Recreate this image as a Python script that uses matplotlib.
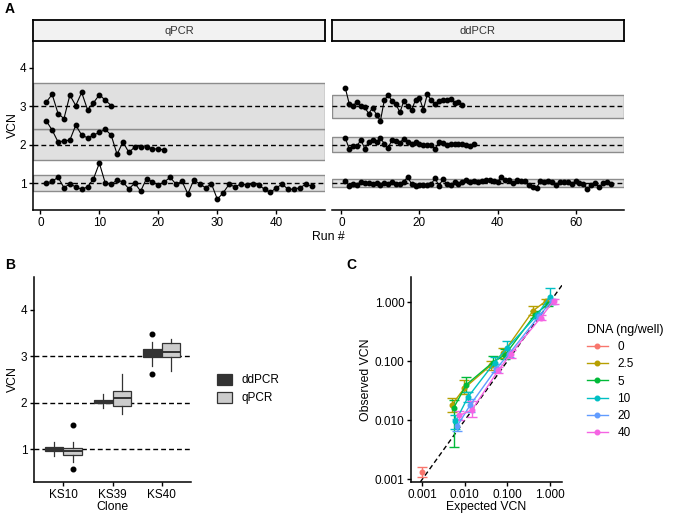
import numpy as np
import matplotlib.pyplot as plt
from matplotlib.patches import Patch
from matplotlib.lines import Line2D

plt.rcParams["font.family"] = ["Liberation Sans", "DejaVu Sans"]

W, H = 674, 514

# --- Panel A: VCN per run ---
qpcr_ks10 = [1.00, 1.05, 1.15, 0.88, 0.98, 0.90, 0.84, 0.90, 1.11, 1.52,
             1.00, 0.97, 1.08, 1.03, 0.85, 1.00, 0.79, 1.12, 1.03, 0.95,
             1.03, 1.15, 0.97, 1.05, 0.72, 1.08, 0.98, 0.88, 0.98, 0.58,
             0.75, 0.97, 0.90, 0.98, 0.95, 0.97, 0.95, 0.84, 0.76, 0.88,
             0.97, 0.84, 0.84, 0.88, 0.97, 0.92]
qpcr_ks39 = [2.62, 2.38, 2.07, 2.10, 2.12, 2.51, 2.25, 2.18, 2.25, 2.32,
             2.40, 2.25, 1.75, 2.07, 1.80, 1.94, 1.95, 1.94, 1.90, 1.88, 1.87]
qpcr_ks40 = [3.11, 3.31, 2.81, 2.68, 3.29, 3.02, 3.36, 2.91, 3.09, 3.30,
             3.16, 3.02]
ddpcr_ks10 = [1.05, 0.93, 0.97, 0.96, 1.03, 1.00, 0.99, 0.98, 1.00, 0.94,
              1.00, 0.97, 1.02, 0.97, 0.98, 1.04, 1.16, 0.97, 0.92, 0.95,
              0.94, 0.96, 0.97, 1.13, 0.93, 1.10, 0.98, 0.94, 1.02, 0.97,
              1.04, 1.08, 1.02, 1.06, 1.03, 1.06, 1.07, 1.07, 1.05, 1.03,
              1.15, 1.09, 1.07, 1.00, 1.08, 1.06, 1.05, 0.96, 0.90, 0.88,
              1.05, 1.03, 1.06, 1.03, 0.95, 1.04, 1.03, 1.02, 0.98, 1.05,
              0.99, 0.98, 0.85, 0.95, 1.01, 0.89, 1.00, 1.03, 0.97]
ddpcr_ks39 = [2.18, 1.89, 1.96, 1.97, 2.12, 1.90, 2.07, 2.13, 2.07, 2.17,
              2.03, 1.92, 2.13, 2.10, 2.05, 2.16, 2.07, 2.03, 2.07, 2.02,
              2.00, 1.99, 2.00, 1.88, 2.07, 2.05, 2.00, 2.01, 2.01, 2.03,
              2.01, 1.99, 1.96, 2.01]
ddpcr_ks40 = [3.48, 3.07, 3.02, 3.11, 3.00, 2.97, 2.81, 2.96, 2.78, 2.62,
              3.16, 3.29, 3.14, 3.05, 2.84, 3.14, 3.00, 2.90, 3.17, 3.22,
              2.91, 3.31, 3.16, 3.05, 3.13, 3.16, 3.16, 3.20, 3.09, 3.10, 3.04]

targets = [1, 2, 3]
methods_a = ["qPCR", "ddPCR"]
tolerance = [0.20, 0.10]
runs_by_method = [[qpcr_ks10, qpcr_ks39, qpcr_ks40],
                  [ddpcr_ks10, ddpcr_ks39, ddpcr_ks40]]
xticks_a = [[0, 10, 20, 30, 40], [0, 20, 40, 60]]

# --- Panel B ---
clones = ["KS10", "KS39", "KS40"]
box_methods = ["ddPCR", "qPCR"]
box_fill = ["#333333", "#cccccc"]

# --- Panel C: observed vs expected VCN ---
expected = [0.006, 0.012, 0.05, 0.1, 0.5, 1.0]
dna_levels = ["0", "2.5", "5", "10", "20", "40"]
dna_colors = ["#F8766D", "#B79F00", "#00BA38", "#00BFC4", "#619CFF", "#F564E3"]
blank_x = [0.001]
blank_obs = [0.0013]
blank_lo = [0.0011]
blank_hi = [0.0016]
obs_mean = [
    [0.018, 0.035, 0.085, 0.14, 0.72, 1.05],
    [0.016, 0.040, 0.095, 0.13, 0.62, 0.93],
    [0.0095, 0.025, 0.095, 0.17, 0.60, 1.25],
    [0.008, 0.018, 0.075, 0.135, 0.58, 1.05],
    [0.012, 0.015, 0.070, 0.135, 0.55, 1.05],
]
obs_lo = [
    [0.014, 0.028, 0.070, 0.115, 0.60, 0.95],
    [0.0035, 0.030, 0.080, 0.110, 0.55, 0.88],
    [0.007, 0.020, 0.080, 0.140, 0.55, 0.95],
    [0.0065, 0.014, 0.065, 0.120, 0.52, 0.95],
    [0.010, 0.0115, 0.062, 0.115, 0.50, 0.95],
]
obs_hi = [
    [0.024, 0.048, 0.100, 0.170, 0.88, 1.12],
    [0.022, 0.055, 0.125, 0.160, 0.70, 1.00],
    [0.012, 0.030, 0.120, 0.220, 0.66, 1.75],
    [0.0105, 0.023, 0.090, 0.155, 0.65, 1.15],
    [0.0145, 0.021, 0.080, 0.155, 0.60, 1.12],
]

DASH = (0, (3.5, 2.2))
TICK_FS = 8.5
LABEL_FS = 8.8


def px_axes(fig, left, top, right, bottom):
    return fig.add_axes([left / W, 1 - bottom / H, (right - left) / W, (bottom - top) / H])


def style(ax):
    for s in ("top", "right"):
        ax.spines[s].set_visible(False)
    for s in ("left", "bottom"):
        ax.spines[s].set_linewidth(1.1)
    ax.tick_params(length=3, width=1, pad=1.8, labelsize=TICK_FS, colors="black")
    ax.set_facecolor("none")


fig = plt.figure(figsize=(W / 100, H / 100), dpi=100)

# ---------- A ----------
panel_px = [(33, 325), (332, 624)]
for k, (method, (l, r)) in enumerate(zip(methods_a, panel_px)):
    ax = px_axes(fig, l, 41, r, 210)
    style(ax)
    tol = tolerance[k]
    for v in targets:
        ax.axhspan(v * (1 - tol), v * (1 + tol), facecolor="#e0e0e0",
                   edgecolor="#8c8c8c", lw=1.0, zorder=0)
    for v in targets:
        ax.axhline(v, color="black", ls=DASH, lw=1.0, zorder=1)
    nmax = 0
    for series in runs_by_method[k]:
        x = np.arange(1, len(series) + 1)
        nmax = max(nmax, len(series))
        ax.plot(x, series, "-o", color="black", lw=0.8, ms=3.2, zorder=3)
    pad = (nmax - 1) * 0.05
    ax.set_xlim(1 - pad, nmax + pad)
    ax.set_ylim(0.3, 4.7)
    ax.set_xticks(xticks_a[k])
    if k == 0:
        ax.set_yticks([1, 2, 3, 4])
        ax.set_ylabel("VCN", fontsize=LABEL_FS, labelpad=0.5)
    else:
        ax.spines["left"].set_visible(False)
        ax.set_yticks([])
    # facet strip
    st = px_axes(fig, l, 20, r, 41)
    st.set_facecolor("#f2f2f2")
    st.set_xticks([]); st.set_yticks([])
    for s in st.spines.values():
        s.set_linewidth(1.3)
    st.text(0.5, 0.5, method, ha="center", va="center", fontsize=8,
            color="#333333", transform=st.transAxes)

fig.text(328 / W, 1 - 237 / H, "Run #", ha="center", va="center", fontsize=LABEL_FS)

# ---------- B ----------
axb = px_axes(fig, 34, 277, 191, 482)
style(axb)
for v in targets:
    axb.axhline(v, color="black", ls=DASH, lw=1.0, zorder=0)
box_data = {"ddPCR": runs_by_method[1], "qPCR": runs_by_method[0]}
offsets = [-0.1875, 0.1875]
for j, m in enumerate(box_methods):
    pos = [i + 1 + offsets[j] for i in range(len(clones))]
    bp = axb.boxplot(box_data[m], positions=pos, widths=0.375, patch_artist=True,
                     showcaps=False, manage_ticks=False,
                     flierprops=dict(marker="o", mfc="black", mec="black", ms=3.3),
                     medianprops=dict(color="#333333", lw=1.4),
                     whiskerprops=dict(color="#333333", lw=0.9),
                     boxprops=dict(edgecolor="#333333", lw=0.9))
    for b in bp["boxes"]:
        b.set_facecolor(box_fill[j])
        b.set_zorder(2)
axb.set_xlim(0.4, 3.6)
axb.set_ylim(0.3, 4.7)
axb.set_xticks([1, 2, 3])
axb.set_xticklabels(clones)
axb.set_yticks([1, 2, 3, 4])
axb.set_xlabel("Clone", fontsize=LABEL_FS, labelpad=0)
axb.set_ylabel("VCN", fontsize=LABEL_FS, labelpad=1.5)

handles_b = [Patch(facecolor=c, edgecolor="#333333", lw=0.9) for c in box_fill]
fig.legend(handles_b, box_methods, loc="center left", frameon=False,
           bbox_to_anchor=(206 / W, 1 - 389 / H), fontsize=8.5,
           handlelength=1.3, handleheight=1.1, labelspacing=0.45)

# ---------- C ----------
axc = px_axes(fig, 411, 277, 562, 482)
style(axc)
axc.set_xscale("log")
axc.set_yscale("log")
axc.axline((1e-3, 1e-3), (1, 1), color="black", ls=DASH, lw=1.0, zorder=1)
axc.errorbar(blank_x, blank_obs,
             yerr=[np.subtract(blank_obs, blank_lo), np.subtract(blank_hi, blank_obs)],
             fmt="-o", color=dna_colors[0], ms=3.3, lw=1.0, capsize=3.6, zorder=3)
n = len(obs_mean)
dodge = (np.arange(n) - (n - 1) / 2) * 0.045
for i in range(n):
    xs = np.array(expected) * 10 ** dodge[i]
    m = np.array(obs_mean[i])
    lo = m - np.array(obs_lo[i])
    hi = np.array(obs_hi[i]) - m
    axc.errorbar(xs, m, yerr=[lo, hi], fmt="-o", color=dna_colors[i + 1],
                 ms=3.3, lw=1.0, capsize=3.6, zorder=3)
axc.set_xlim(10 ** -3.27, 10 ** 0.29)
axc.set_ylim(10 ** -3.05, 10 ** 0.43)
ticks_c = [0.001, 0.01, 0.1, 1]
axc.set_xticks(ticks_c)
axc.set_yticks(ticks_c)
axc.set_xticklabels([f"{t:.3f}" for t in ticks_c])
axc.set_yticklabels([f"{t:.3f}" for t in ticks_c])
axc.minorticks_off()
axc.set_xlabel("Expected VCN", fontsize=LABEL_FS, labelpad=0)
axc.set_ylabel("Observed VCN", fontsize=LABEL_FS, labelpad=2)

handles_c = [Line2D([], [], color=c, marker="o", ms=3.3, lw=1.0) for c in dna_colors]
fig.legend(handles_c, dna_levels, title="DNA (ng/well)", loc="upper left",
           frameon=False, bbox_to_anchor=(576 / W, 1 - 313 / H), fontsize=8.5,
           title_fontsize=9, handlelength=1.8, labelspacing=0.45, alignment="left")

# panel letters
for letter, (x, y) in {"A": (5, 9), "B": (5, 265), "C": (346, 265)}.items():
    fig.text(x / W, 1 - y / H, letter, fontsize=10, fontweight="bold",
             ha="left", va="center")

fig.savefig("out.png", dpi=100)
